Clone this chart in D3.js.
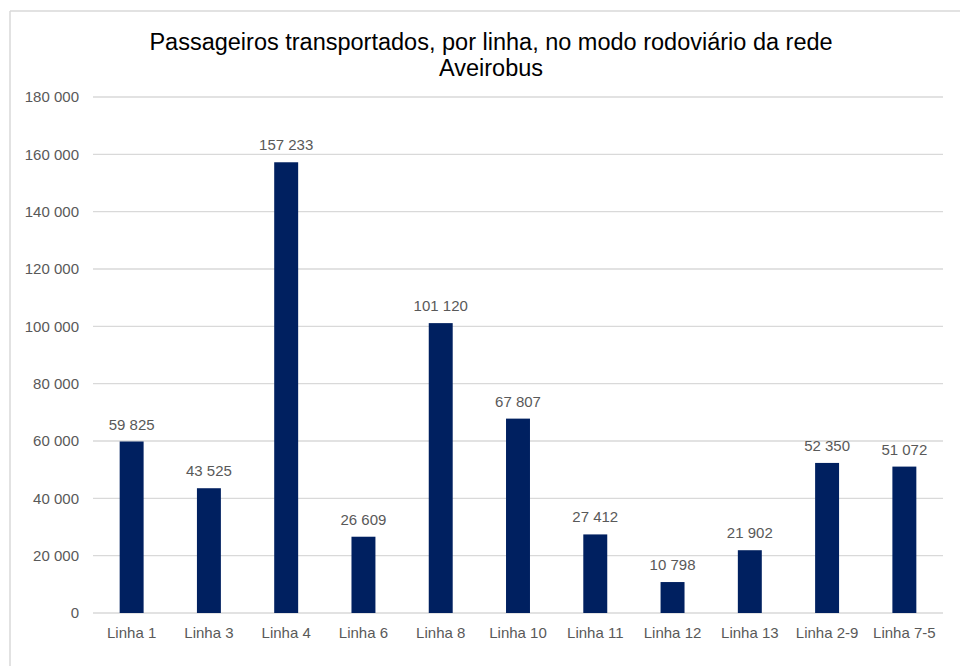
<!DOCTYPE html>
<html>
<head>
<meta charset="utf-8">
<script src="https://cdn.jsdelivr.net/npm/d3@7"></script>
<style>
  body { margin: 0; background: #fff; }
  svg { display: block; font-family: "Liberation Sans", Arial, sans-serif; }
</style>
</head>
<body>
<svg id="chart" width="960" height="666"></svg>
<script>
// data
const categories = ["Linha 1", "Linha 3", "Linha 4", "Linha 6", "Linha 8", "Linha 10",
  "Linha 11", "Linha 12", "Linha 13", "Linha 2-9", "Linha 7-5"];
const passengers = [59825, 43525, 157233, 26609, 101120, 67807, 27412, 10798, 21902, 52350, 51072];
const yTicks = [0, 20000, 40000, 60000, 80000, 100000, 120000, 140000, 160000, 180000];
const titleLines = ["Passageiros transportados, por linha, no modo rodoviário da rede", "Aveirobus"];

const svg = d3.select("#chart");
const width = 960, height = 666;
const margin = { top: 97, right: 17, bottom: 53, left: 93 };

// chart frame (only top + left edges are visible in the crop)
svg.append("line")
  .attr("x1", 10).attr("x2", width).attr("y1", 11).attr("y2", 11)
  .attr("stroke", "#d9d9d9").attr("stroke-width", 1.5);
svg.append("line")
  .attr("x1", 10).attr("x2", 10).attr("y1", 11).attr("y2", height)
  .attr("stroke", "#d9d9d9").attr("stroke-width", 1.5);

// title
svg.append("text")
  .attr("text-anchor", "middle")
  .attr("font-size", 23.5)
  .attr("fill", "#000")
  .selectAll("tspan")
  .data(titleLines)
  .join("tspan")
  .attr("x", 491)
  .attr("y", (d, i) => 50 + i * 26)
  .text(d => d);

const x = d3.scaleBand()
  .domain(categories)
  .range([margin.left, width - margin.right])
  .paddingInner(0.69)
  .paddingOuter(0.345);

const y = d3.scaleLinear()
  .domain([0, 180000])
  .range([height - margin.bottom, margin.top]);

const fmt = v => d3.format(",")(v).replace(/,/g, " ");

// gridlines
svg.append("g")
  .selectAll("line")
  .data(yTicks)
  .join("line")
  .attr("x1", margin.left)
  .attr("x2", width - margin.right)
  .attr("y1", d => y(d))
  .attr("y2", d => y(d))
  .attr("stroke", "#d9d9d9")
  .attr("stroke-width", 1.3);

// y axis labels
const yAxis = svg.append("g")
  .attr("transform", `translate(${margin.left},0)`)
  .call(d3.axisLeft(y).tickValues(yTicks).tickFormat(fmt).tickSize(0).tickPadding(14));
yAxis.select(".domain").remove();
yAxis.selectAll("text")
  .attr("font-size", 15)
  .attr("font-family", "Liberation Sans, Arial, sans-serif")
  .attr("fill", "#595959");

// x axis labels
const xAxis = svg.append("g")
  .attr("transform", `translate(0,${y(0)})`)
  .call(d3.axisBottom(x).tickSize(0).tickPadding(14));
xAxis.select(".domain").remove();
xAxis.selectAll("text")
  .attr("font-size", 15)
  .attr("font-family", "Liberation Sans, Arial, sans-serif")
  .attr("fill", "#595959");

// bars
svg.append("g")
  .selectAll("rect")
  .data(passengers)
  .join("rect")
  .attr("x", (d, i) => x(categories[i]))
  .attr("width", x.bandwidth())
  .attr("y", d => y(d))
  .attr("height", d => y(0) - y(d))
  .attr("fill", "#002060");

// value labels
svg.append("g")
  .selectAll("text")
  .data(passengers)
  .join("text")
  .attr("x", (d, i) => x(categories[i]) + x.bandwidth() / 2)
  .attr("y", d => y(d) - 12)
  .attr("text-anchor", "middle")
  .attr("font-size", 15)
  .attr("fill", "#595959")
  .text(d => fmt(d));
</script>
</body>
</html>
